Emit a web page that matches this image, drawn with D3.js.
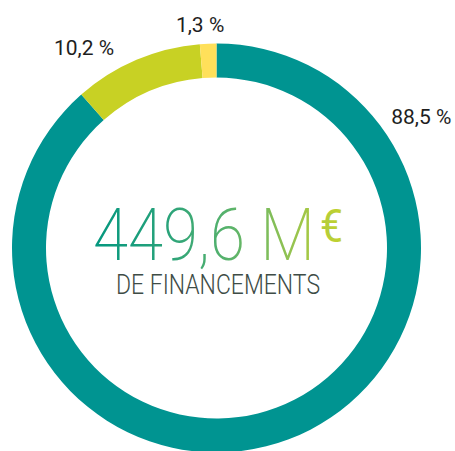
<!DOCTYPE html>
<html>
<head>
<meta charset="utf-8">
<script src="https://cdn.jsdelivr.net/npm/d3@7"></script>
<style>
    html, body { margin: 0; padding: 0; background: #fff; }
    svg { display: block; }
</style>
</head>
<body>
<div id="chart"></div>
<script>
// data
const categories = ['A', 'B', 'C'];
const shares = [88.5, 10.2, 1.3];
const shareLabels = ['88,5 %', '10,2 %', '1,3 %'];
const totalLabel = '449,6 M';
const unitLabel = '€';
const subLabel = 'DE FINANCEMENTS';

// setting param
const width = 455;
const height = 451;
const cx = 216.5;
const cy = 248;
const outerR = 204.5;
const innerR = 170.5;
const colors = ['#009491', '#c8d124', '#ffe05a'];
// label position (angle in deg from top, radius)
const labelPos = [[57.4, 243], [-33.5, 240], [-4.2, 224]];

window.onload = () => {
    const svg = d3.select('#chart').append('svg')
        .attr('width', width)
        .attr('height', height);

    // gradient for the big number (svg coords)
    const grad = svg.append('defs').append('linearGradient')
        .attr('id', 'numGrad')
        .attr('gradientUnits', 'userSpaceOnUse')
        .attr('x1', 93).attr('x2', 342)
        .attr('y1', 0).attr('y2', 0);
    [['0', '#03977f'], ['0.3', '#2aa37a'], ['0.55', '#5ab36b'], ['0.8', '#95c350'], ['1', '#c3d22e']]
        .forEach(s => grad.append('stop').attr('offset', s[0]).attr('stop-color', s[1]));

    const pie = d3.pie().sort(null).value(d => d);
    const arc = d3.arc().innerRadius(innerR).outerRadius(outerR);
    const color = d3.scaleOrdinal().domain(categories).range(colors);

    const g = svg.append('g').attr('transform', `translate(${cx},${cy})`);

    g.selectAll('path')
        .data(pie(shares))
        .enter()
        .append('path')
        .attr('d', arc)
        .attr('fill', (d, i) => color(categories[i]));

    // slice labels
    g.selectAll('.lbl')
        .data(shareLabels)
        .enter()
        .append('text')
        .attr('class', 'lbl')
        .attr('x', (d, i) => labelPos[i][1] * Math.sin(labelPos[i][0] * Math.PI / 180))
        .attr('y', (d, i) => -labelPos[i][1] * Math.cos(labelPos[i][0] * Math.PI / 180) + 7)
        .attr('text-anchor', 'middle')
        .style('font-family', 'Roboto, sans-serif')
        .style('font-weight', 400)
        .style('font-size', '21px')
        .style('fill', '#1e1e1e')
        .text(d => d);

    // center text
    svg.append('text')
        .attr('x', 93)
        .attr('y', 260)
        .attr('textLength', 222)
        .attr('lengthAdjust', 'spacingAndGlyphs')
        .style('font-family', 'Roboto, sans-serif')
        .style('font-weight', 200)
        .style('font-size', '72px')
        .style('fill', 'url(#numGrad)')
        .text(totalLabel);

    svg.append('text')
        .attr('x', 320)
        .attr('y', 242)
        .attr('textLength', 23)
        .attr('lengthAdjust', 'spacingAndGlyphs')
        .style('font-family', 'Roboto, sans-serif')
        .style('font-weight', 400)
        .style('font-size', '46px')
        .style('fill', 'url(#numGrad)')
        .text(unitLabel);

    svg.append('text')
        .attr('x', 116)
        .attr('y', 294)
        .attr('textLength', 204)
        .attr('lengthAdjust', 'spacingAndGlyphs')
        .style('font-family', 'Roboto, sans-serif')
        .style('font-weight', 300)
        .style('font-size', '28px')
        .style('fill', '#3e4c46')
        .text(subLabel);
};
</script>
</body>
</html>
